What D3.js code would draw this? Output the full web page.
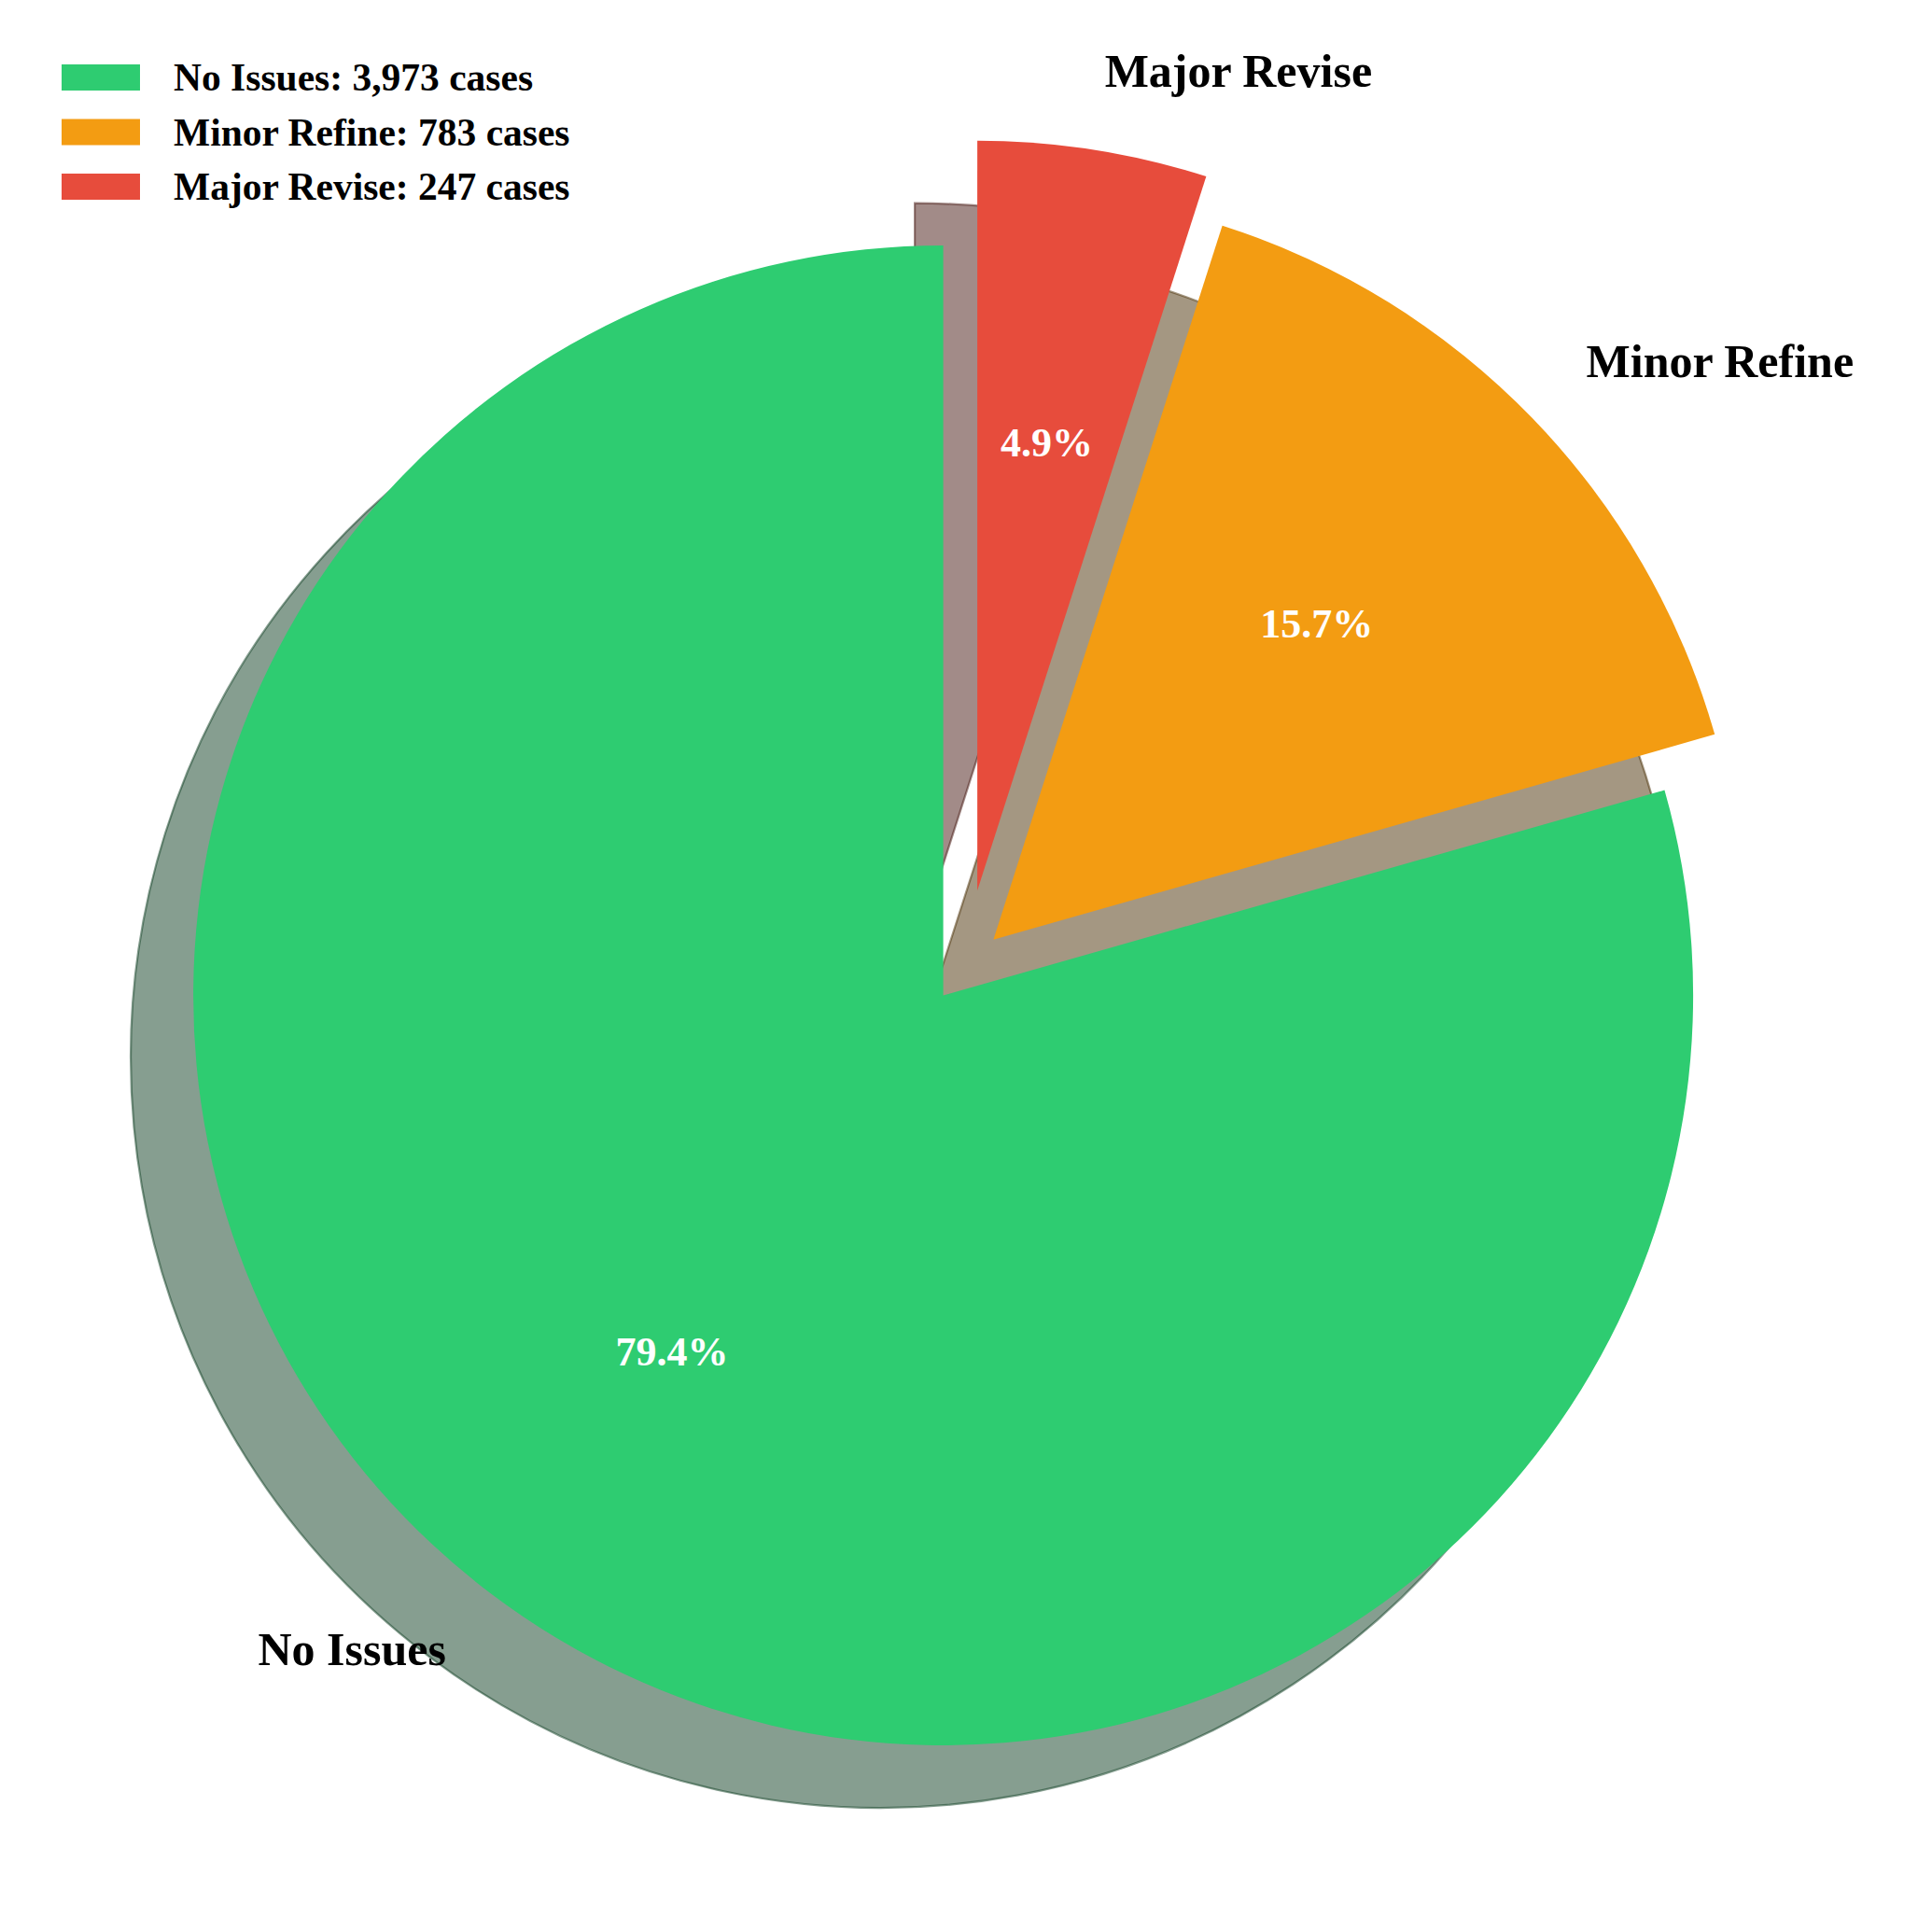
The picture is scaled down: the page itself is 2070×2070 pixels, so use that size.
<!DOCTYPE html>
<html>
<head>
<meta charset="utf-8">
<script src="https://cdn.jsdelivr.net/npm/d3@7"></script>
<style>
  body { margin: 0; background: #fff; }
  svg text { font-family: "Liberation Serif", "Times New Roman", serif; font-weight: bold; }
</style>
</head>
<body>
<div id="chart"></div>
<script>
// data
const categories = ['No Issues', 'Minor Refine', 'Major Revise'];
const counts = [3973, 783, 247];
const colors = ['#2ecc71', '#f39c12', '#e74c3c'];
// explode distance (fraction of radius) and its direction (deg, ccw from 3 o'clock)
const explode = [0, 0.1, 0.147];
const explodeDir = [0, 48, 72];

const W = 2070, H = 2070;
const cx = 1010.6, cy = 1066.5, R = 803.5;
const shadowDx = -67, shadowDy = 67;

const total = d3.sum(counts);
const fmtCount = d3.format(',');

const svg = d3.select('#chart').append('svg')
  .attr('width', W)
  .attr('height', H);

const pie = d3.pie().sort(null).startAngle(0).endAngle(-2 * Math.PI);
const arcs = pie(counts);
const arc = d3.arc().innerRadius(0).outerRadius(R);

// offset of each (exploded) wedge centre
const offsets = arcs.map((d, i) => {
  const t = explodeDir[i] * Math.PI / 180;
  return [cx + explode[i] * R * Math.cos(t), cy - explode[i] * R * Math.sin(t)];
});

// darker version of the colour, like a drop shadow
const shade = c => {
  const rgb = d3.rgb(c);
  return d3.rgb(rgb.r * 0.3, rgb.g * 0.3, rgb.b * 0.3).formatHex();
};

// shadows first, all of them under the wedges
svg.append('g').selectAll('path')
  .data(arcs)
  .join('path')
  .attr('transform', (d, i) => `translate(${offsets[i][0] + shadowDx},${offsets[i][1] + shadowDy})`)
  .attr('d', arc)
  .attr('fill', (d, i) => shade(colors[i]))
  .attr('fill-opacity', 0.5)
  .attr('stroke', (d, i) => shade(colors[i]))
  .attr('stroke-opacity', 0.5)
  .attr('stroke-width', 2.2);

svg.append('g').selectAll('path')
  .data(arcs)
  .join('path')
  .attr('transform', (d, i) => `translate(${offsets[i][0]},${offsets[i][1]})`)
  .attr('d', arc)
  .attr('fill', (d, i) => colors[i]);

const mid = d => (d.startAngle + d.endAngle) / 2;

// percentage text inside the wedges
svg.append('g').selectAll('text')
  .data(arcs)
  .join('text')
  .attr('x', (d, i) => offsets[i][0] + 0.6 * R * Math.sin(mid(d)))
  .attr('y', (d, i) => offsets[i][1] - 0.6 * R * Math.cos(mid(d)) - 3)
  .attr('text-anchor', 'middle')
  .attr('dominant-baseline', 'central')
  .attr('fill', '#fff')
  .style('font-size', '44px')
  .text(d => (d.data / total * 100).toFixed(1) + '%');

// category labels outside
svg.append('g').selectAll('text')
  .data(arcs)
  .join('text')
  .attr('x', (d, i) => offsets[i][0] + 1.1 * R * Math.sin(mid(d)))
  .attr('y', (d, i) => offsets[i][1] - 1.1 * R * Math.cos(mid(d)) - 5)
  .attr('text-anchor', d => Math.sin(mid(d)) > 0 ? 'start' : 'end')
  .attr('dominant-baseline', 'central')
  .attr('fill', '#000')
  .style('font-size', '50px')
  .text((d, i) => categories[i]);

// legend, top left
const legend = svg.append('g').attr('transform', 'translate(66, 83)');
const rows = legend.selectAll('g')
  .data(categories)
  .join('g')
  .attr('transform', (d, i) => `translate(0, ${i * 58.5})`);

rows.append('rect')
  .attr('x', 0)
  .attr('y', -14)
  .attr('width', 84)
  .attr('height', 28)
  .attr('fill', (d, i) => colors[i]);

rows.append('text')
  .attr('x', 120)
  .attr('y', 0)
  .attr('dominant-baseline', 'central')
  .style('font-size', '41.5px')
  .text((d, i) => `${d}: ${fmtCount(counts[i])} cases`);
</script>
</body>
</html>
